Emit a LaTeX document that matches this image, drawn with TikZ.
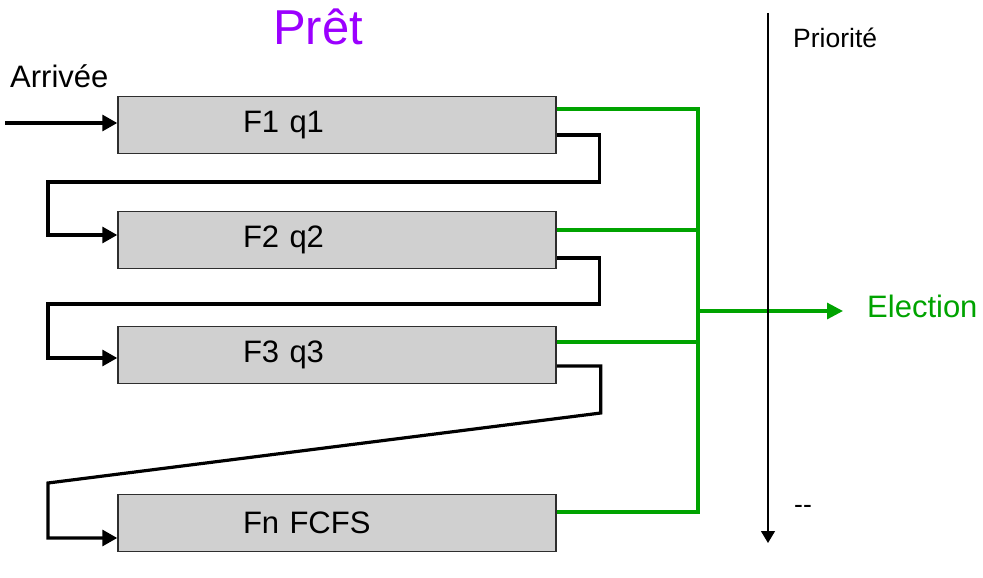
\documentclass[tikz,border=0pt]{standalone}
\usepackage{fontspec}
\setmainfont{Liberation Sans}
\usepackage{tikz}
\usetikzlibrary{arrows.meta}
\definecolor{boxfill}{HTML}{D0D0D0}
\definecolor{boxline}{HTML}{2E2E2E}
\definecolor{elgreen}{HTML}{00A300}
\definecolor{pretviolet}{HTML}{9B00FF}
\tikzset{
  qbox/.style={draw=boxline, line width=1.5pt, fill=boxfill, minimum width=438pt, minimum height=57pt,
    inner xsep=0pt, text width=188pt, align=left, font=\fontsize{31}{36}\selectfont},
  flow/.style={line width=3.2pt, draw=black},
  flowarr/.style={flow, -{Triangle[length=15pt,width=16pt]}},
  bus/.style={line width=3.2pt, draw=elgreen},
  ax/.style={line width=1.2pt, draw=black, -{Triangle[length=12pt,width=14pt]}},
  lbl/.style={anchor=base west, inner sep=0pt}
}

\begin{document}
\begin{tikzpicture}[x=1pt,y=-1pt]
  \useasboundingbox (0,0) rectangle (983,578);
  \node[lbl, text=pretviolet, font=\fontsize{49}{58}\selectfont] (pret) at (273,45) {Prêt};
  \node[lbl, font=\fontsize{31}{36}\selectfont] (arr) at (10,88) {Arrivée};
  % queues
  \node[qbox] (f1) at (337,125) {F1 q1};
  \node[qbox] (f2) at (337,240) {F2 q2};
  \node[qbox] (f3) at (337,355) {F3 q3};
  \node[qbox] (fn) at (337,523) {Fn FCFS};
  % demotion path
  \coordinate (in) at (5,123);
  \draw[flowarr] (in) -- (in -| f1.west);
  \draw[flowarr] ([yshift=-10pt]f1.east) -- ++(43,0) |- (48,182) |- ([yshift=5pt]f2.west);
  \draw[flowarr] ([yshift=-18pt]f2.east) -- ++(43,0) |- (48,304) |- ([yshift=-3pt]f3.west);
  \draw[flowarr] ([yshift=-11pt]f3.east) -- ++(44,0) -- ++(0,47) -- (48,483) |- ([yshift=-15pt]fn.west);
  % election
  \coordinate (bt) at (698,109);
  \coordinate (bb) at (698,512);
  \coordinate (bm) at (698,311);
  \draw[bus] ([yshift=16pt]f1.east) -- (bt) -- (bb) -- ([yshift=11pt]fn.east);
  \draw[bus] ([yshift=10pt]f2.east) -- +(142,0);
  \draw[bus] ([yshift=13pt]f3.east) -- +(142,0);
  \node[lbl, text=elgreen, font=\fontsize{31}{36}\selectfont] (el) at (867,317) {Election};
  \draw[bus, -{Triangle[length=16pt,width=16pt]}, shorten >=24pt] (bm) -- (bm -| el.west);
  % priority axis
  \coordinate (ptop) at (768,13);
  \coordinate (pbot) at (768,543);
  \draw[ax] (ptop) -- (pbot);
  \node[lbl, font=\fontsize{26.5}{32}\selectfont] (prio) at (793,48) {Priorité};
  \node[lbl, font=\fontsize{26.5}{32}\selectfont] (low) at (794,513) {-{}-};
\end{tikzpicture}
\end{document}
